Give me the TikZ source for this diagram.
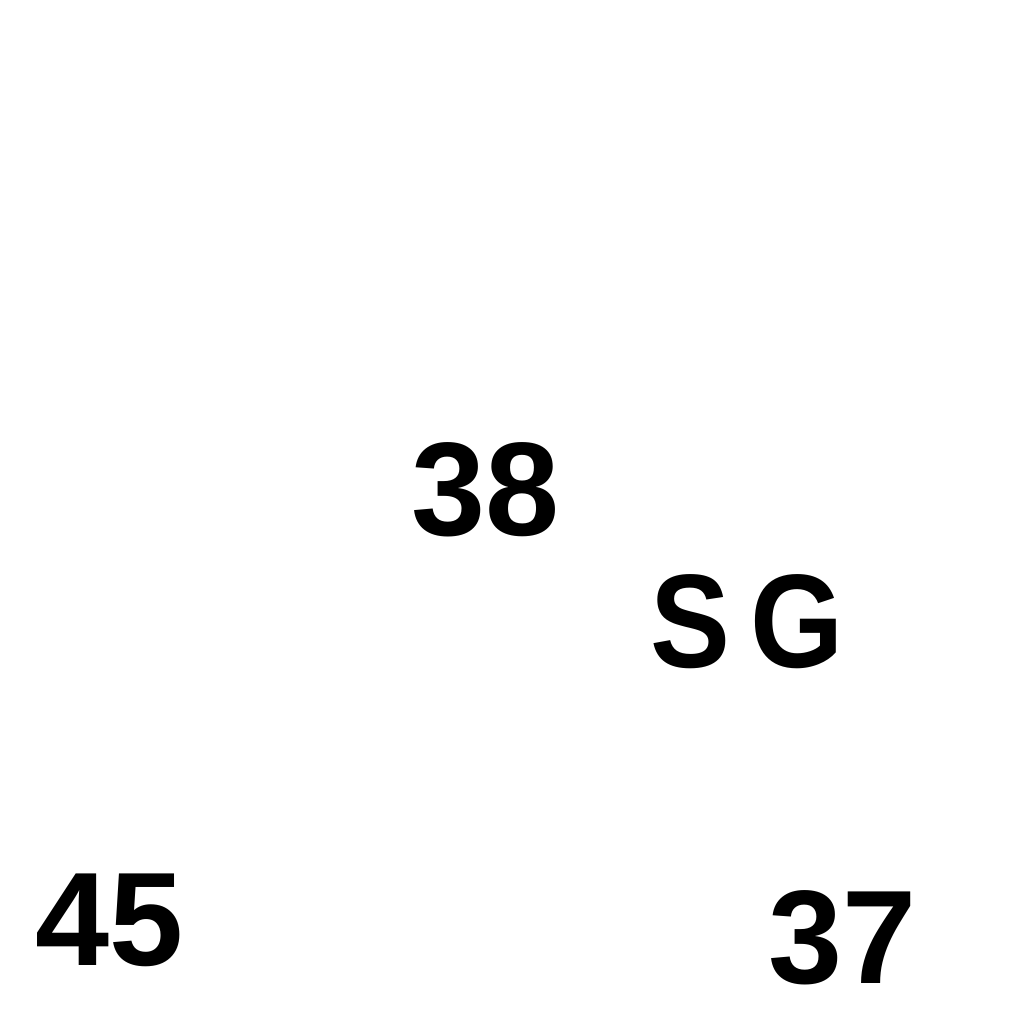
\documentclass[tikz,border=0pt]{standalone}
\usepackage{fontspec}
\setmainfont{Liberation Sans}
\usetikzlibrary{positioning}

\begin{document}
\begin{tikzpicture}[lbl/.style={inner sep=0pt,font=\fontsize{37}{37}\selectfont\bfseries}]
      \useasboundingbox[fill=white] (0,0) rectangle (10,10);
      \node[lbl] (n38) at (4.746,5.215) {38};
      \node[lbl] (sg) at (7.295,3.926) {\scalebox{0.9}[1]{S\,G}};
      \node[lbl] (n45) at (1.074,1.016) {45};
      \node[lbl] (n37) at (8.232,0.84) {37};
   \end{tikzpicture}
\end{document}
